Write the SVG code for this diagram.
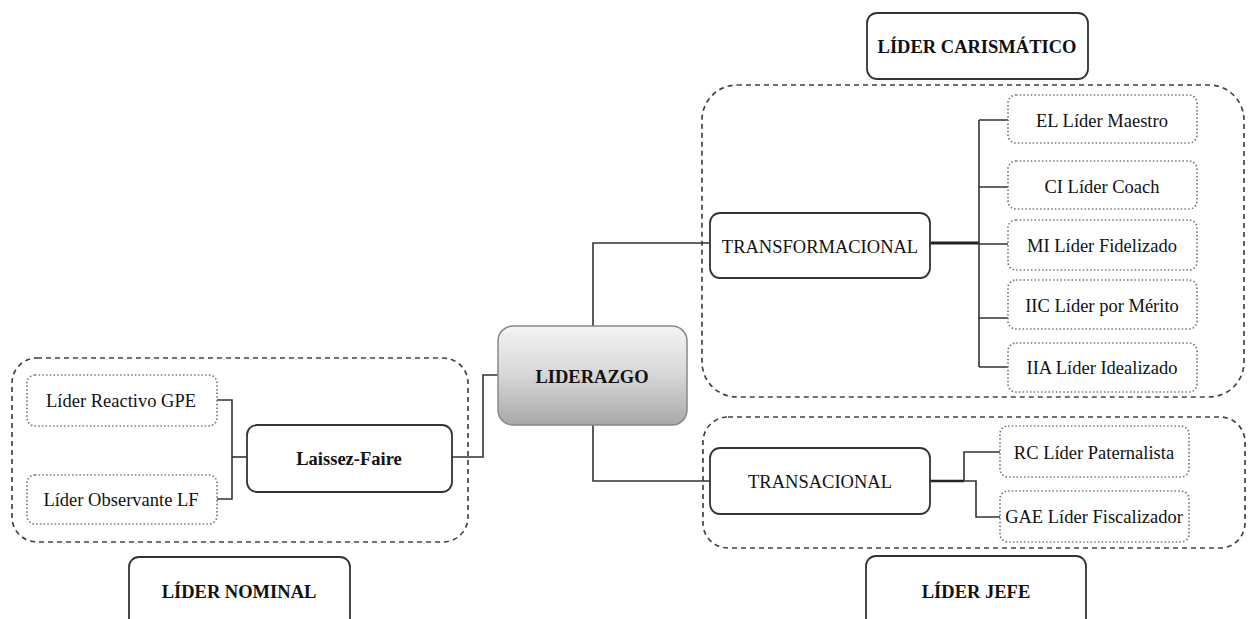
<svg xmlns="http://www.w3.org/2000/svg" width="1248" height="619" viewBox="0 0 1248 619">
<defs>
<linearGradient id="gLid" x1="0" y1="0" x2="0" y2="1">
<stop offset="0" stop-color="#f4f4f4"/>
<stop offset="0.5" stop-color="#d6d6d6"/>
<stop offset="1" stop-color="#a8a8a8"/>
</linearGradient>
<style>
.region{fill:none;stroke:#444;stroke-width:1.7;stroke-dasharray:5 4}
.solid{fill:#fff;stroke:#333;stroke-width:1.8}
.dot{fill:#fff;stroke:#777;stroke-width:1.7;stroke-dasharray:1.5 2.2}
.t{font-family:"Liberation Serif","Times New Roman",serif;font-size:18.5px;fill:#111;text-anchor:middle;dominant-baseline:central}
.b{font-weight:bold}
.c{fill:none;stroke:#333;stroke-width:1.6}
.thick{fill:none;stroke:#222;stroke-width:3}
</style>
</defs>
<rect width="1248" height="619" fill="#fff"/>
<g id="regions">
<rect class="region" x="702" y="85" width="542" height="312" rx="35"/>
<rect class="region" x="703" y="417" width="542" height="131" rx="25"/>
<rect class="region" x="12" y="358" width="456" height="184" rx="25"/>
</g>
<g id="connectors">
<path class="c" d="M593 326 V243 H710"/>
<path class="c" d="M593 425 V481 H710"/>
<path class="c" d="M498 375 H483 V457 H452"/>
<path class="c" d="M247 457 H232"/>
<path class="c" d="M217 400 H232 V499 H217"/>
<path class="thick" d="M930 243 H979"/>
<path class="c" d="M979 120 V367"/>
<path class="c" d="M979 120 H1008 M979 187 H1008 M979 244 H1008 M979 318 H1008 M979 367 H1008"/>
<path class="thick" d="M930 481 H964" style="stroke-width:2.4"/>
<path class="c" d="M964 481 V452 H1000"/>
<path class="c" d="M964 481 H976 V517 H1000"/>
</g>
<g id="lider-carismatico">
<rect class="solid" x="867" y="13" width="221" height="66" rx="10"/>
<text class="t b" x="977" y="47">LÍDER CARISMÁTICO</text>
</g>
<g id="liderazgo">
<rect x="498" y="326" width="189" height="99" rx="15" fill="url(#gLid)" stroke="#888" stroke-width="1.5"/>
<text class="t b" x="592" y="377">LIDERAZGO</text>
</g>
<g id="transformacional">
<rect class="solid" x="710" y="213" width="220" height="65" rx="10"/>
<text class="t" x="820" y="247">TRANSFORMACIONAL</text>
</g>
<g id="transaccional">
<rect class="solid" x="710" y="448" width="220" height="66" rx="10"/>
<text class="t" x="820" y="482">TRANSACIONAL</text>
</g>
<g id="el"><rect class="dot" x="1008" y="95" width="189" height="48" rx="8"/><text class="t" x="1102" y="121">EL Líder Maestro</text></g>
<g id="ci"><rect class="dot" x="1008" y="161" width="189" height="48" rx="8"/><text class="t" x="1102" y="187">CI Líder Coach</text></g>
<g id="mi"><rect class="dot" x="1008" y="220" width="189" height="50" rx="8"/><text class="t" x="1102" y="246">MI Líder Fidelizado</text></g>
<g id="iic"><rect class="dot" x="1008" y="280" width="189" height="49" rx="8"/><text class="t" x="1102" y="306">IIC Líder por Mérito</text></g>
<g id="iia"><rect class="dot" x="1008" y="343" width="189" height="49" rx="8"/><text class="t" x="1102" y="368">IIA Líder Idealizado</text></g>
<g id="rc"><rect class="dot" x="1000" y="426" width="189" height="51" rx="8"/><text class="t" x="1094" y="453">RC Líder Paternalista</text></g>
<g id="gae"><rect class="dot" x="1000" y="491" width="189" height="51" rx="8"/><text class="t" x="1094" y="517">GAE Líder Fiscalizador</text></g>
<g id="gpe"><rect class="dot" x="27" y="375" width="190" height="51" rx="8"/><text class="t" x="121" y="401">Líder Reactivo GPE</text></g>
<g id="lf"><rect class="dot" x="27" y="475" width="190" height="49" rx="8"/><text class="t" x="121" y="500">Líder Observante LF</text></g>
<g id="laissez-faire">
<rect class="solid" x="247" y="425" width="205" height="67" rx="10"/>
<text class="t b" x="349" y="459">Laissez-Faire</text>
</g>
<g id="lider-nominal">
<rect class="solid" x="129" y="557" width="221" height="72" rx="10"/>
<text class="t b" x="239" y="592">LÍDER NOMINAL</text>
</g>
<g id="lider-jefe">
<rect class="solid" x="866" y="556" width="220" height="73" rx="10"/>
<text class="t b" x="976" y="592">LÍDER JEFE</text>
</g>
</svg>
